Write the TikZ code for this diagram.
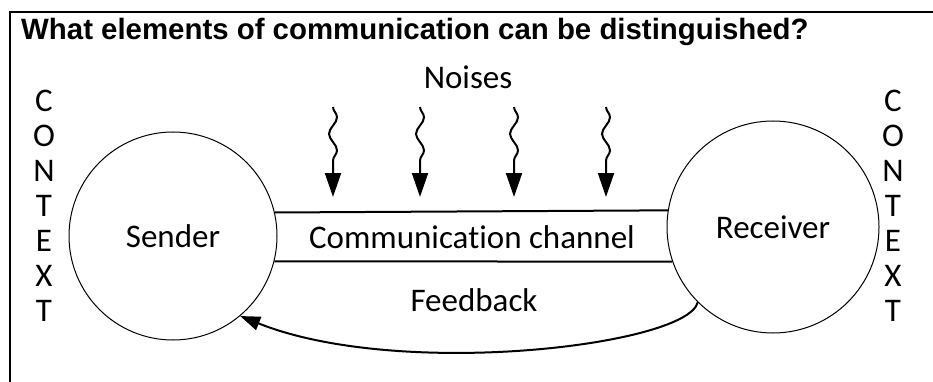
\documentclass[tikz,border=0pt]{standalone}
\usepackage{fontspec}
\setmainfont{Carlito}[RawFeature={-liga}]
\newfontfamily\titlefont{Liberation Sans}
\usetikzlibrary{arrows.meta,decorations.pathmorphing}
\begin{document}
\begin{tikzpicture}[x=1pt,y=-1pt,
  every node/.style={font=\fontsize{33}{40}\selectfont, inner sep=0pt},
  party/.style={circle, draw, line width=1pt},
  chan/.style={line width=2pt},
  fb/.style={line width=2pt, -{Triangle[length=20pt,width=14pt]}},
  noise/.style={line width=2pt, -{Triangle[length=24pt,width=16pt]},
    decorate, decoration={snake, amplitude=4pt, segment length=33pt, post length=30pt}},
  frame/.style={line width=2pt}]
\useasboundingbox (0,0) rectangle (933,382);
\draw[frame] (10,382) -- (10,12) -- (933,12);
\node[anchor=base west, font=\titlefont\bfseries\fontsize{29.4}{34}\selectfont] (title) at (21,40) {What elements of communication can be distinguished?};
\node (noises) at (468,77) {Noises};
\foreach \l [count=\i from 0] in {C,O,N,T,E,X,T} {
  \node (cl\i) at (44,101+35*\i) {\l};
  \node (cr\i) at (893,101+35*\i) {\l};
}
\node[party, minimum size=208pt] (snd) at (173,236) {Sender};
\node[party, minimum size=212pt] (rcv) at (773,227) {Receiver};
\draw[chan] (snd.13.3) -- (rcv.171.9);
\draw[chan] (snd.-14.5) -- (rcv.199.3);
\node (chtext) at (472,237) {Communication channel};
\node (fbtext) at (474,300) {Feedback};
\draw[fb] (rcv.225) .. controls +(-10,43) and +(160,64) .. (snd.-50);
\foreach \x [count=\i] in {333,420,514,606} {
  \coordinate (nt\i) at (\x,107);
  \coordinate (nb\i) at (\x,197);
  \draw[noise] (nt\i) -- (nb\i);
}
\end{tikzpicture}
\end{document}
